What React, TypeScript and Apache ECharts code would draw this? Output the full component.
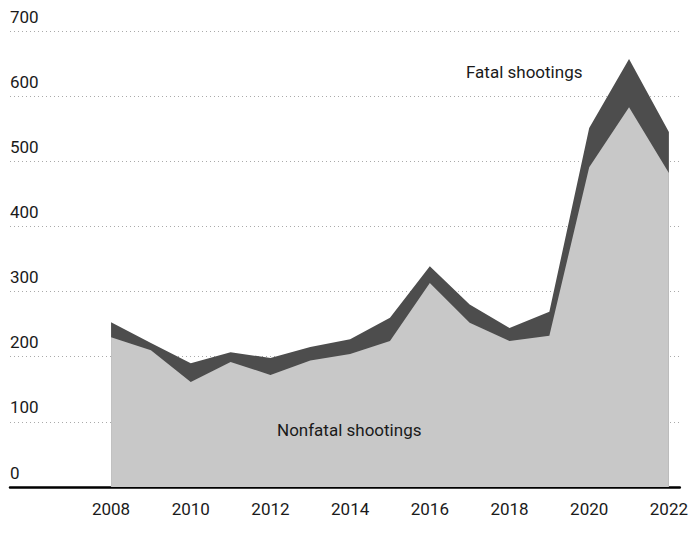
import React, { useEffect, useRef } from "react";
import * as echarts from "echarts";

const years = [2008, 2009, 2010, 2011, 2012, 2013, 2014, 2015, 2016, 2017, 2018, 2019, 2020, 2021, 2022];
const nonfatal = [230, 210, 161, 192, 172, 194, 204, 224, 313, 252, 224, 232, 491, 583, 482];
const fatal = [23, 11, 29, 15, 26, 21, 23, 36, 26, 28, 20, 37, 60, 74, 63];
const yearLabels = [2008, 2010, 2012, 2014, 2016, 2018, 2020, 2022];
const yTicks = [0, 100, 200, 300, 400, 500, 600, 700];

const FONT = "Roboto";

export default function App() {
  const ref = useRef<HTMLDivElement>(null);
  useEffect(() => {
    document.body.style.margin = "0";
    const chart = echarts.init(ref.current!, null, { renderer: "svg" });
    const total = years.map((y, i) => [y, nonfatal[i] + fatal[i]]);
    chart.setOption({
      animation: false,
      grid: { left: 10, right: 5, top: 31, bottom: 49, containLabel: false },
      xAxis: {
        type: "value",
        min: 2005.4636,
        max: 2022.2735,
        splitLine: { show: false },
        axisTick: { show: false },
        axisLine: { show: true, onZero: false, lineStyle: { color: "#000", width: 2.5 } },
        axisLabel: {
          customValues: yearLabels,
          formatter: (v: number) => String(v),
          margin: 13,
          color: "#1a1a1a",
          fontFamily: FONT,
          fontSize: 17,
        },
      },
      yAxis: {
        type: "value",
        min: 0,
        max: 700,
        interval: 100,
        axisLine: { show: false },
        axisTick: { show: false },
        splitLine: { show: true, lineStyle: { color: "#aaa", type: [1, 3], width: 1 } },
        axisLabel: {
          inside: true,
          margin: 0,
          align: "left",
          verticalAlign: "bottom",
          padding: [0, 0, 6, 0],
          color: "#1a1a1a",
          fontFamily: FONT,
          fontSize: 17,
          formatter: (v: number) => (yTicks.includes(v) ? String(v) : ""),
        },
      },
      series: [
        {
          name: "Fatal shootings",
          type: "line",
          symbol: "none",
          lineStyle: { width: 0 },
          areaStyle: { color: "#4d4d4d", opacity: 1 },
          data: total,
          z: 2,
        },
        {
          name: "Nonfatal shootings",
          type: "line",
          symbol: "none",
          lineStyle: { width: 0 },
          areaStyle: { color: "#c8c8c8", opacity: 1 },
          data: years.map((y, i) => [y, nonfatal[i]]),
          z: 3,
        },
      ],
      graphic: [
        {
          type: "text",
          left: 466,
          top: 63,
          z: 10,
          style: { text: "Fatal shootings", fill: "#1a1a1a", font: `17px ${FONT}` },
        },
        {
          type: "text",
          left: 277,
          top: 421,
          z: 10,
          style: { text: "Nonfatal shootings", fill: "#1a1a1a", font: `17px ${FONT}` },
        },
      ],
    });
    return () => chart.dispose();
  }, []);
  return <div ref={ref} style={{ width: 691, height: 536 }} />;
}
